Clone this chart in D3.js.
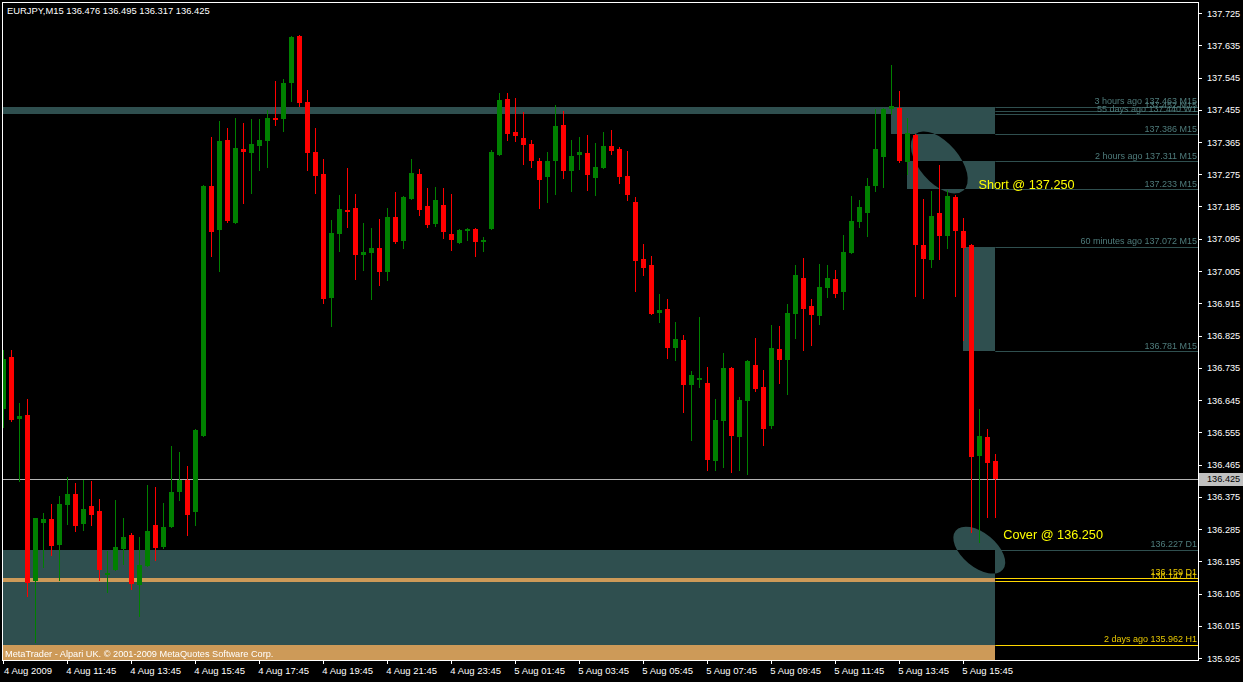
<!DOCTYPE html>
<html><head><meta charset="utf-8">
<script src="https://cdn.jsdelivr.net/npm/d3@7"></script>
<style>html,body{margin:0;padding:0;background:#000;overflow:hidden}svg{display:block}text{font-family:"Liberation Sans",Arial,sans-serif}</style>
</head><body>
<script>
// ---- data (EURJPY M15, 4-5 Aug 2009) ----
const open = [136.620,136.765,136.592,136.603,136.140,136.302,136.313,136.240,136.352,136.383,136.299,136.349,136.335,136.160,136.171,136.229,136.268,136.129,136.182,136.296,136.235,136.291,136.388,136.422,136.333,136.545,137.242,137.119,137.370,137.139,137.345,137.334,137.354,137.368,137.432,137.429,137.529,137.661,137.476,137.337,137.276,136.930,137.108,137.175,137.181,137.050,137.055,137.069,137.002,137.156,137.089,137.206,137.276,137.186,137.136,137.189,137.108,137.083,137.117,137.122,137.086,137.122,137.329,137.485,137.393,137.376,137.359,137.312,137.267,137.312,137.412,137.284,137.329,137.334,137.264,137.292,137.354,137.345,137.270,137.197,137.038,137.022,136.888,136.899,136.790,136.812,136.687,136.701,136.692,136.475,136.586,136.734,136.542,136.642,136.743,136.681,136.572,136.787,136.757,136.885,136.985,136.907,136.879,136.957,136.983,136.946,137.055,137.142,137.167,137.242,137.323,137.457,137.460,137.309,137.384,137.077,137.036,137.167,137.103,137.211,137.117,137.077,136.489,136.542,136.476];
const high = [136.785,136.785,136.637,136.648,136.316,136.330,136.355,136.377,136.430,136.413,136.422,136.419,136.369,136.224,136.366,136.316,136.274,136.263,136.408,136.402,136.358,136.517,136.500,136.461,136.564,137.245,137.379,137.423,137.404,137.432,137.418,137.429,137.429,137.454,137.535,137.541,137.661,137.663,137.510,137.404,137.317,137.147,137.217,137.292,137.220,137.139,137.125,137.150,137.181,137.225,137.214,137.317,137.289,137.236,137.239,137.236,137.220,137.122,137.125,137.125,137.100,137.343,137.502,137.502,137.488,137.449,137.370,137.320,137.337,137.468,137.451,137.370,137.379,137.384,137.362,137.393,137.398,137.351,137.340,137.211,137.080,137.047,136.941,136.927,136.863,136.826,136.726,136.877,136.737,136.648,136.776,136.737,136.653,136.757,136.818,136.729,136.854,136.851,136.913,137.022,137.041,136.927,137.024,137.022,137.008,137.105,137.214,137.203,137.264,137.457,137.460,137.580,137.507,137.432,137.387,137.206,137.228,137.301,137.231,137.217,137.153,137.080,136.620,136.564,136.495];
const low = [136.567,136.584,136.416,136.095,135.967,136.176,136.210,136.140,136.296,136.277,136.280,136.293,136.140,136.107,136.168,136.185,136.115,136.040,136.179,136.196,136.229,136.288,136.363,136.266,136.293,136.542,137.044,137.002,137.139,137.136,137.192,137.220,137.284,137.292,137.409,137.393,137.476,137.462,137.284,137.220,136.913,136.849,137.058,137.125,136.980,137.005,136.924,136.963,136.977,137.080,137.066,137.203,137.158,137.125,137.128,137.094,137.061,137.080,137.089,137.044,137.058,137.119,137.326,137.368,137.365,137.301,137.292,137.178,137.195,137.217,137.262,137.225,137.287,137.228,137.214,137.289,137.329,137.248,137.200,136.946,136.991,136.882,136.860,136.759,136.754,136.609,136.531,136.678,136.447,136.447,136.455,136.441,136.447,136.436,136.667,136.517,136.564,136.690,136.659,136.815,136.782,136.796,136.854,136.930,136.930,136.896,137.052,137.125,137.100,137.225,137.236,137.440,137.306,137.273,136.932,136.927,137.013,137.036,137.066,136.932,136.810,136.274,136.246,136.316,136.317];
const close = [136.759,136.589,136.600,136.134,136.316,136.313,136.238,136.355,136.383,136.293,136.341,136.324,136.171,136.162,136.235,136.263,136.132,136.185,136.280,136.232,136.291,136.388,136.422,136.324,136.561,137.242,137.114,137.368,137.144,137.348,137.337,137.359,137.370,137.432,137.426,137.529,137.658,137.474,137.334,137.270,136.927,137.111,137.178,137.170,137.050,137.058,137.069,137.002,137.156,137.086,137.211,137.278,137.175,137.133,137.203,137.114,137.091,137.119,137.122,137.086,137.091,137.337,137.482,137.387,137.382,137.356,137.312,137.259,137.312,137.409,137.284,137.326,137.337,137.273,137.295,137.354,137.340,137.267,137.217,137.033,137.013,136.885,136.896,136.790,136.815,136.687,136.715,136.706,136.478,136.589,136.734,136.545,136.645,136.754,136.676,136.564,136.790,136.757,136.888,136.994,136.899,136.882,136.960,136.985,136.941,137.058,137.144,137.183,137.242,137.345,137.457,137.465,137.312,137.390,137.077,137.038,137.158,137.103,137.214,137.117,137.069,136.486,136.545,136.469,136.425];

const timeTickBars = [0,8,16,24,32,40,48,56,64,72,80,88,96,104,112,120];
const timeTickLabels = ["4 Aug 2009","4 Aug 11:45","4 Aug 13:45","4 Aug 15:45","4 Aug 17:45","4 Aug 19:45","4 Aug 21:45","4 Aug 23:45","5 Aug 01:45","5 Aug 03:45","5 Aug 05:45","5 Aug 07:45","5 Aug 09:45","5 Aug 11:45","5 Aug 13:45","5 Aug 15:45"];
const priceTicks = [137.725,137.635,137.545,137.455,137.365,137.275,137.185,137.095,137.005,136.915,136.825,136.735,136.645,136.555,136.465,136.375,136.285,136.195,136.105,136.015,135.925];

const symbolTitle = "EURJPY,M15  136.476 136.495 136.317 136.425";
const lastPrice = 136.425;

// rectangle objects: [startBar, endBar, priceTop, priceBottom, colorName]
const rectStart = [-5, 111, 113, 120, -5, -5, -5];
const rectEnd   = [124, 124, 124, 124, 124, 124, 124];
const rectTop   = [137.463, 137.443, 137.311, 137.072, 136.227, 136.149, 135.962];
const rectBot   = [137.443, 137.386, 137.233, 136.781, 135.962, 136.138, 135.900];
const rectKind  = ["slate","slate","slate","slate","slate","sand","sand"];

// price levels drawn to the right edge with labels
const levelPrice = [137.463, 137.452, 137.443, 137.386, 137.311, 137.233, 137.072, 136.781, 136.227, 136.149, 136.139, 135.962];
const levelText  = ["3 hours ago 137.463 M15", "137.452 M15", "55 days ago 137.440 W1", "137.386 M15", "2 hours ago 137.311 M15", "137.233 M15", "60 minutes ago 137.072 M15", "136.781 M15", "136.227 D1", "136.159 D1", "136.147 H1", "2 days ago 135.962 H1"];
const levelKind  = ["slate","slate","slate","slate","slate","slate","slate","slate","slate","gold","gold","gold"];

// ellipses: centre bar, centre price, semi axes (px), tilt (deg)
const ellBar = [117.0, 122.0];
const ellPrice = [137.308, 136.226];
const ellA = [37, 30.6];
const ellB = [20, 17];
const ellRot = [49.4, 39.5];

const notes = ["Short @ 137.250", "Cover @ 136.250"];
const noteBar = [121.9, 125.0];
const notePrice = [137.250, 136.250];

// ---- drawing ----
const W = 1243, H = 682;
const L = 3, R = 1198, T = 3, B = 660;
const colors = {slate:"#2F4F4F", sand:"#CD9A58", gold:"#FFD700", up:"#008000", down:"#FF0000", text:"#FFFFFF", slateText:"#4E7B7B"};

const x = d3.scaleLinear().domain([0, 124]).range([3.3, 995.3]);
const y = d3.scaleLinear().domain([135.925, 137.725]).range([658, 13]);

const svg = d3.select("body").append("svg").attr("width", W).attr("height", H);
svg.append("rect").attr("width", W).attr("height", H).attr("fill", "#000");
svg.append("clipPath").attr("id","plot").append("rect").attr("x",L).attr("y",T).attr("width",R-L).attr("height",B-T);

const plot = svg.append("g").attr("clip-path","url(#plot)");

// rectangles
const rects = rectStart.map((s,i)=>({s, e:rectEnd[i], t:rectTop[i], b:rectBot[i], k:rectKind[i]}));
plot.selectAll("rect.obj").data(rects).join("rect").attr("class","obj")
  .attr("x", d=>Math.max(L, x(d.s)))
  .attr("width", d=>x(d.e)-Math.max(L,x(d.s)))
  .attr("y", d=>y(d.t))
  .attr("height", d=>Math.max(1, y(d.b)-y(d.t)))
  .attr("fill", d=>colors[d.k]).attr("shape-rendering","crispEdges");

// ellipses (XOR look)
const ells = ellBar.map((b,i)=>({cx:x(b), cy:y(ellPrice[i]), a:ellA[i], bb:ellB[i], r:ellRot[i]}));
plot.selectAll("ellipse").data(ells).join("ellipse")
  .attr("cx",0).attr("cy",0).attr("rx",d=>d.a).attr("ry",d=>d.bb)
  .attr("transform", d=>`translate(${d.cx},${d.cy}) rotate(${d.r})`)
  .attr("fill", colors.slate).style("mix-blend-mode","difference");

// level lines to the right of the objects
const levels = levelPrice.map((p,i)=>({p, t:levelText[i], k:levelKind[i]}));
plot.selectAll("line.lvl").data(levels).join("line").attr("class","lvl")
  .attr("x1", x(124)).attr("x2", R)
  .attr("y1", d=>Math.round(y(d.p))+0.5).attr("y2", d=>Math.round(y(d.p))+0.5)
  .attr("stroke", d=>colors[d.k]).attr("stroke-width",1);

// current price line
plot.append("line").attr("x1",L).attr("x2",R)
  .attr("y1", Math.round(y(lastPrice))+0.5).attr("y2", Math.round(y(lastPrice))+0.5)
  .attr("stroke","#B4B4B4").attr("stroke-width",1);

// candles
const bars = open.map((o,i)=>({i, o, h:high[i], l:low[i], c:close[i]}));
const cg = plot.append("g").attr("shape-rendering","crispEdges");
cg.selectAll("line.wick").data(bars).join("line").attr("class","wick")
  .attr("x1", d=>Math.round(x(d.i))+0.5).attr("x2", d=>Math.round(x(d.i))+0.5)
  .attr("y1", d=>y(d.h)).attr("y2", d=>y(d.l))
  .attr("stroke", d=>d.c>=d.o?colors.up:colors.down).attr("stroke-width",1);
cg.selectAll("rect.body").data(bars).join("rect").attr("class","body")
  .attr("x", d=>Math.round(x(d.i))-2).attr("width",5)
  .attr("y", d=>y(Math.max(d.o,d.c)))
  .attr("height", d=>Math.max(2, Math.abs(y(d.o)-y(d.c))))
  .attr("fill", d=>d.c>=d.o?colors.up:colors.down);

// level labels
plot.selectAll("text.lvl").data(levels).join("text").attr("class","lvl")
  .attr("x", R-1).attr("y", d=>y(d.p)-2.5)
  .attr("text-anchor","end").attr("font-size",9)
  .attr("fill", d=>d.k==="gold"?"#E8C800":colors.slateText)
  .text(d=>d.t);

// notes
plot.selectAll("text.note").data(notes).join("text").attr("class","note")
  .attr("x",(d,i)=>x(noteBar[i])).attr("y",(d,i)=>y(notePrice[i])+ (i===0?6:-2.5))
  .attr("font-size",12.7).attr("fill","#FFFF00").text(d=>d);

// copyright
plot.append("text").attr("x",5).attr("y",657).attr("font-size",9.2).attr("fill","#fff")
  .text("MetaTrader - Alpari UK. © 2001-2009 MetaQuotes Software Corp.");

// frame
svg.append("rect").attr("x",L-0.5).attr("y",T-0.5).attr("width",R-L+1).attr("height",B-T+1)
  .attr("fill","none").attr("stroke","#fff").attr("stroke-width",1).attr("shape-rendering","crispEdges");

// right axis
const ya = svg.append("g");
ya.selectAll("line").data(priceTicks).join("line")
  .attr("x1",R).attr("x2",R+4).attr("y1",d=>Math.round(y(d))+0.5).attr("y2",d=>Math.round(y(d))+0.5)
  .attr("stroke","#fff");
ya.selectAll("text").data(priceTicks).join("text")
  .attr("x",1207).attr("y",d=>y(d)+3.5).attr("font-size",9.2).attr("fill","#fff")
  .text(d=>d3.format(".3f")(d));

// current price label
const ly = y(lastPrice);
svg.append("rect").attr("x",R+1).attr("y",Math.round(ly)-6).attr("width",44).attr("height",13).attr("fill","#C0C0C0");
svg.append("text").attr("x",1207).attr("y",ly+3.5).attr("font-size",9.2).attr("fill","#000").text(d3.format(".3f")(lastPrice));

// bottom axis
const xa = svg.append("g");
xa.selectAll("line").data(timeTickBars).join("line")
  .attr("x1",d=>Math.round(x(d))+0.5).attr("x2",d=>Math.round(x(d))+0.5).attr("y1",B).attr("y2",B+4)
  .attr("stroke","#fff");
xa.selectAll("text").data(timeTickBars).join("text")
  .attr("x",d=>Math.max(4, x(d)-1)).attr("y",674).attr("font-size",9.5).attr("fill","#fff")
  .text((d,i)=>timeTickLabels[i]);

// title
svg.append("text").attr("x",7).attr("y",14).attr("font-size",9.4).attr("fill","#fff").text(symbolTitle);
</script>
</body></html>
